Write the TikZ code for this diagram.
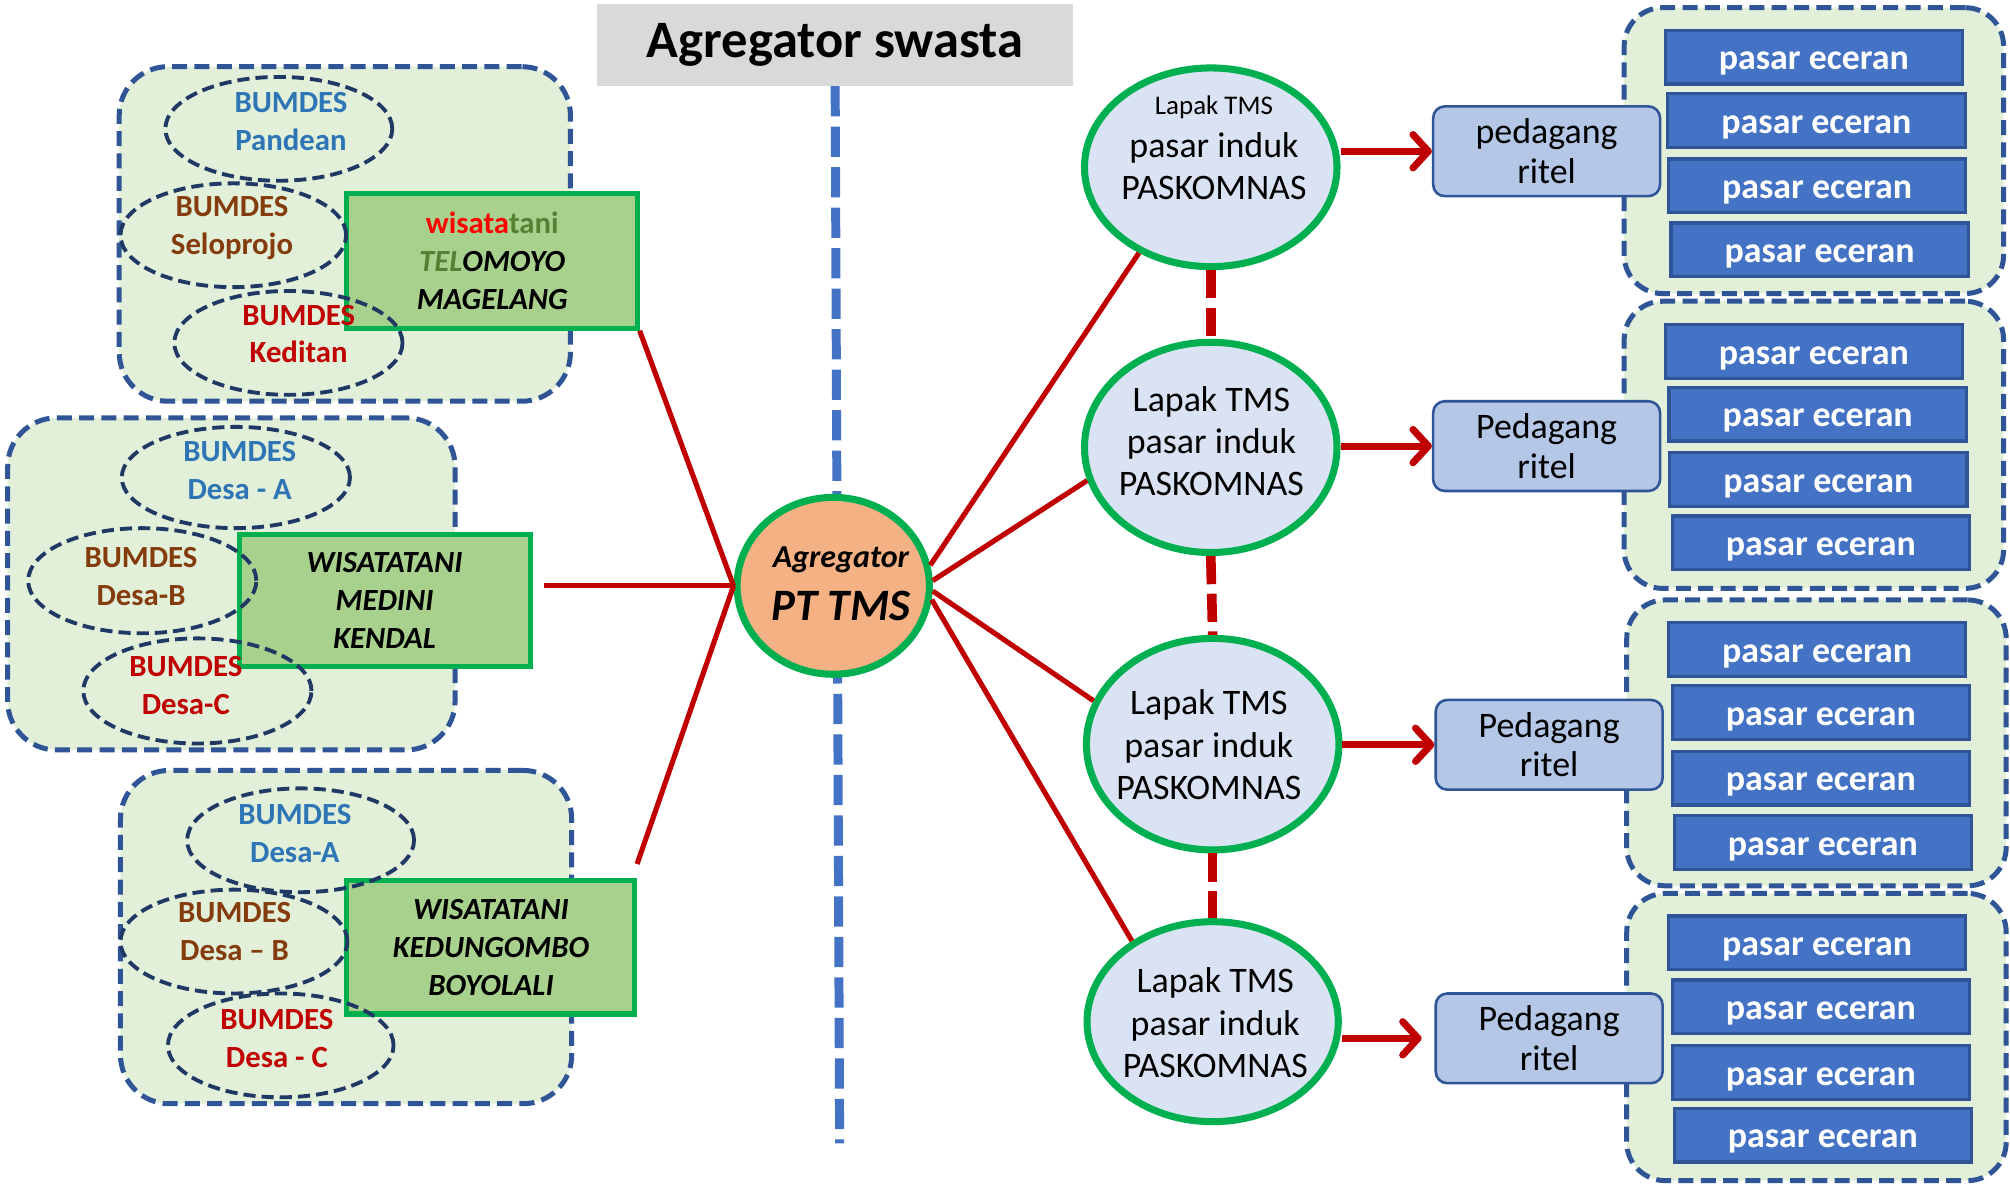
\documentclass[tikz,border=0pt]{standalone}
\usepackage{fontspec}
\setmainfont{Carlito}
\usetikzlibrary{shapes.geometric,arrows.meta,calc}
\definecolor{lgreen}{HTML}{E2F0D9}
\definecolor{grpblue}{HTML}{2F5597}
\definecolor{navy}{HTML}{203864}
\definecolor{boxgreen}{HTML}{A9D18E}
\definecolor{ggreen}{HTML}{00B050}
\definecolor{dred}{HTML}{C00000}
\definecolor{cblue}{HTML}{2E75B6}
\definecolor{cbrown}{HTML}{843C0C}
\definecolor{wred}{HTML}{FF0000}
\definecolor{dgreen}{HTML}{548235}
\definecolor{lblue}{HTML}{DAE3F3}
\definecolor{pblue}{HTML}{B4C7E7}
\definecolor{peblue}{HTML}{4472C4}
\definecolor{tgray}{HTML}{D9D9D9}
\definecolor{oran}{HTML}{F4B183}
\newcommand\myfs[2]{\fontsize{#1}{#2}\selectfont}
\begin{document}
\begin{tikzpicture}[x=1pt,y=-1pt,
  grp/.style={draw=grpblue, line width=3.9pt, dash pattern=on 11.7pt off 5.7pt, fill=lgreen, rounded corners=38pt, inner sep=0pt},
  rgrp/.style={grp, rounded corners=30pt, minimum width=296pt, minimum height=223pt},
  bell/.style={ellipse, draw=navy, line width=3pt, dash pattern=on 9.5pt off 4.7pt, inner sep=0pt},
  gbox/.style={draw=ggreen, fill=boxgreen, line width=4pt, inner sep=0pt},
  btxt/.style={font=\myfs{24}{29.5}\bfseries, align=center, inner sep=0pt},
  gtxt/.style={font=\myfs{24}{29.5}\bfseries\itshape, align=center, inner sep=0pt},
  lapak/.style={ellipse, draw=ggreen, fill=lblue, line width=5.5pt, inner sep=0pt},
  ltxt/.style={font=\myfs{28}{33}, align=center, inner sep=0pt},
  ped/.style={draw=grpblue, fill=pblue, line width=2pt, rounded corners=9pt, minimum width=177pt, minimum height=70pt, font=\myfs{28}{31}, align=center, inner sep=0pt},
  pe/.style={draw=grpblue, fill=peblue, line width=2.5pt, minimum width=232pt, minimum height=42pt, text=white, font=\myfs{28}{31}\bfseries, inner sep=0pt, text height=25.5pt, text depth=5.5pt},
  rl/.style={draw=dred, line width=4pt},
  arr/.style={draw=dred, line width=5.5pt, -{Straight Barb[length=12pt,width=26pt,line cap=round,line join=round]}},
  vdash/.style={draw=peblue, line width=7pt, dash pattern=on 23.6pt off 8pt},
  rdash/.style={draw=dred, line width=7.5pt, dash pattern=on 22pt off 7.4pt}
]
\path[use as bounding box, fill=white] (0,0) rectangle (1568,923.6);

% title
\node[fill=tgray, minimum width=371pt, minimum height=64pt, inner sep=0pt, font=\myfs{41}{45}\bfseries] (T) at (651.5,35) {Agregator swasta};
\coordinate (vb) at (655,892);
\draw[vdash] (T.south) -- (vb);

% left groups
\node[grp, minimum width=352pt, minimum height=261pt] (G1) at (269,182.5) {};
\node[grp, minimum width=349pt, minimum height=259pt] (G2) at (180.5,455.5) {};
\node[grp, minimum width=352pt, minimum height=260pt] (G3) at (270,731) {};

\node[gbox, minimum width=227pt, minimum height=105pt] (B1) at (383.5,203.5) {};
\node[gbox, minimum width=227pt, minimum height=103pt] (B2) at (300.5,468.5) {};
\node[gbox, minimum width=225pt, minimum height=104pt] (B3) at (382.5,739) {};

\node[btxt] (B1t) at (384,203.5) {\textcolor{wred}{wisata}\textcolor{dgreen}{tani}\\\textit{\textcolor{dgreen}{TEL}OMOYO}\\\textit{MAGELANG}};
\node[gtxt] (B2t) at (300,468.5) {WISATATANI\\MEDINI\\KENDAL};
\node[gtxt] (B3t) at (383,739) {WISATATANI\\KEDUNGOMBO\\BOYOLALI};

% ellipses group 1
\node[bell, minimum width=177pt, minimum height=81pt] (E11) at (217.5,100.5) {};
\node[bell, minimum width=176pt, minimum height=81pt] (E12) at (182,183.5) {};
\node[bell, minimum width=178pt, minimum height=81pt] (E13) at (225,267.5) {};
\node[btxt, text=cblue] (E11t) at (227,94.5) {BUMDES\\Pandean};
\node[btxt, text=cbrown] (E12t) at (181,178) {BUMDES\\Seloprojo};
\node[btxt, text=dred] (E13t) at (233,260.5) {BUMDES\\Keditan};
% group 2
\node[bell, minimum width=178pt, minimum height=79pt] (E21) at (184,372.5) {};
\node[bell, minimum width=178pt, minimum height=82pt] (E22) at (111,453) {};
\node[bell, minimum width=178pt, minimum height=82pt] (E23) at (154,539) {};
\node[btxt, text=cblue] (E21t) at (187,367) {BUMDES\\Desa - A};
\node[btxt, text=cbrown] (E22t) at (110,450) {BUMDES\\Desa-B};
\node[btxt, text=dred] (E23t) at (145,535) {BUMDES\\Desa-C};
% group 3
\node[bell, minimum width=177pt, minimum height=81pt] (E31) at (234.5,655.5) {};
\node[bell, minimum width=177pt, minimum height=81pt] (E32) at (182.5,734.5) {};
\node[bell, minimum width=176pt, minimum height=81pt] (E33) at (219,815.5) {};
\node[btxt, text=cblue] (E31t) at (230,650.5) {BUMDES\\Desa-A};
\node[btxt, text=cbrown] (E32t) at (183,726.5) {BUMDES\\Desa – B};
\node[btxt, text=dred] (E33t) at (216,810) {BUMDES\\Desa - C};

% right groups
\node[rgrp] (R1) at (1415,117.5) {};
\node[rgrp, minimum height=224pt] (R2) at (1415,347) {};
\node[rgrp] (R3) at (1417,579.5) {};
\node[rgrp, minimum height=224pt] (R4) at (1417,809) {};

\foreach \g/\i/\x/\y in {1/1/1415/44.5, 1/2/1417/94, 1/3/1417.5/145, 1/4/1419.5/195,
  2/1/1415/274, 2/2/1418/323, 2/3/1418.5/374, 2/4/1420.5/423.5,
  3/1/1417.5/506.5, 3/2/1420.5/556, 3/3/1420.5/607, 3/4/1422/657,
  4/1/1417.5/735.5, 4/2/1420.5/785.5, 4/3/1420.5/836.5, 4/4/1422/885.5}
  \node[pe] (e\g\i) at (\x,\y) {pasar eceran};

% lapak ellipses
\node[lapak, minimum width=197pt, minimum height=155pt] (L1) at (944.5,130.5) {};
\node[lapak, minimum width=197pt, minimum height=164pt] (L2) at (944.5,349) {};
\node[lapak, minimum width=197pt, minimum height=165pt] (L3) at (946,580.5) {};
\node[lapak, minimum width=196pt, minimum height=156pt] (L4) at (946,797) {};
\node[ltxt, font=\myfs{21}{25}] (L1a) at (947,84) {Lapak TMS};
\node[ltxt] (L1b) at (947,129.5) {pasar induk\\PASKOMNAS};
\node[ltxt] (L2t) at (945,344) {Lapak TMS\\pasar induk\\PASKOMNAS};
\node[ltxt] (L3t) at (943,581) {Lapak TMS\\pasar induk\\PASKOMNAS};
\node[ltxt] (L4t) at (948,798) {Lapak TMS\\pasar induk\\PASKOMNAS};

\draw[rdash] (L1.south) -- (L2.north);
\draw[rdash] (L2.south) -- (L3.north);
\draw[rdash] (L3.south) -- (L4.north);

% pedagang
\node[ped] (P1) at (1206.5,118) {pedagang\\ritel};
\node[ped] (P2) at (1206.5,348) {Pedagang\\ritel};
\node[ped] (P3) at (1208.5,581) {Pedagang\\ritel};
\node[ped] (P4) at (1208.5,810) {Pedagang\\ritel};

\draw[arr] (L1.east |- P1.west) -- (P1.west);
\draw[arr] (L2.east |- P2.west) -- (P2.west);
\draw[arr] (L3.east |- P3.west) -- (P3.west);
\draw[arr, shorten >=10pt] (L4.east |- P4.west) -- (P4.west);

% central
\node[ellipse, draw=ggreen, fill=oran, line width=5.5pt, minimum width=150pt, minimum height=138pt, inner sep=0pt] (agg) at (650,457) {};
\node[font=\myfs{25}{30}\bfseries\itshape, inner sep=0pt] (aggt1) at (656,437) {Agregator};
\node[font=\myfs{35}{40}\bfseries\itshape, inner sep=0pt] (aggt2) at (656,473) {PT TMS};

\coordinate (B2c) at ($(B2.east)+(8,-11.5)$);
\coordinate (B3c) at ($(B3.north east)+(0,-11)$);
\draw[rl] (B1.south east) -- (agg.west);
\draw[rl] (B2c) -- (agg.west);
\draw[rl] (B3c) -- (agg.west);
\draw[rl] (agg.12) -- (L1.230);
\draw[rl] (agg.3) -- (L2.195);
\draw[rl] (agg.-3) -- (L3.160);
\draw[rl] (agg.-8) -- (L4.135);
\end{tikzpicture}
\end{document}
